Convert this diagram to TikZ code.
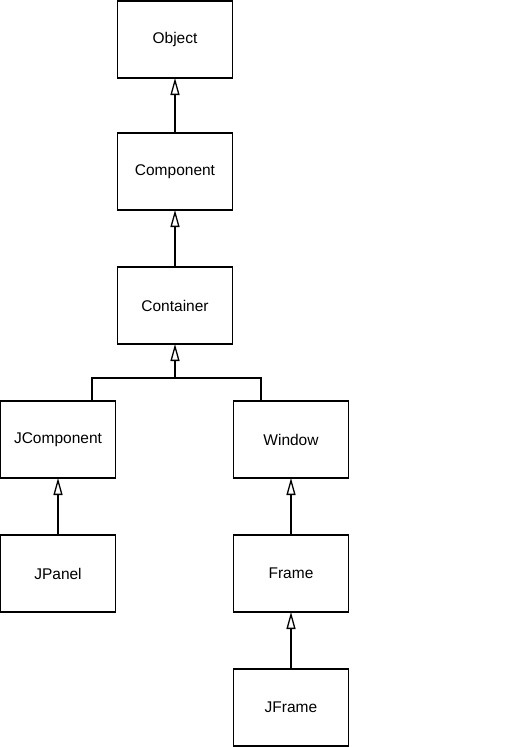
\documentclass[tikz,border=0pt]{standalone}
\usepackage{fontspec}
\setmainfont{Liberation Sans}
\usetikzlibrary{arrows.meta}
\begin{document}
\begin{tikzpicture}[x=1pt,y=-1pt,
  cls/.style={draw, line width=1.4pt, rectangle, minimum width=115pt, minimum height=77pt, inner sep=0pt, outer sep=0pt, font=\fontsize{15.5}{18}\selectfont},
  inh/.style={line width=1.4pt, -{Triangle[open, length=17pt, width=9pt, line width=1.3pt]}},
  conn/.style={line width=1.4pt}]
\useasboundingbox (0,0) rectangle (512,747);
\node[cls] (obj) at (175,39.5) {Object};
\node[cls] (comp) at (175,171.5) {Component};
\node[cls] (cont) at (175,305.5) {Container};
\node[cls] (jcomp) at (58,439.5) {JComponent};
\node[cls] (win) at (291,439.5) {Window};
\node[cls] (jpan) at (58,573.5) {JPanel};
\node[cls] (frame) at (291,573.5) {Frame};
\node[cls] (jframe) at (291,707.5) {JFrame};
\draw[inh] (comp.north) -- (obj.south);
\draw[inh] (cont.north) -- (comp.south);
\coordinate (j) at (175,378);
\draw[inh] (j) -- (cont.south);
\draw[conn] ([xshift=34pt]jcomp.north) |- (j) -| ([xshift=-30pt]win.north);
\draw[inh] (jpan.north) -- (jcomp.south);
\draw[inh] (frame.north) -- (win.south);
\draw[inh] (jframe.north) -- (frame.south);
\end{tikzpicture}
\end{document}
